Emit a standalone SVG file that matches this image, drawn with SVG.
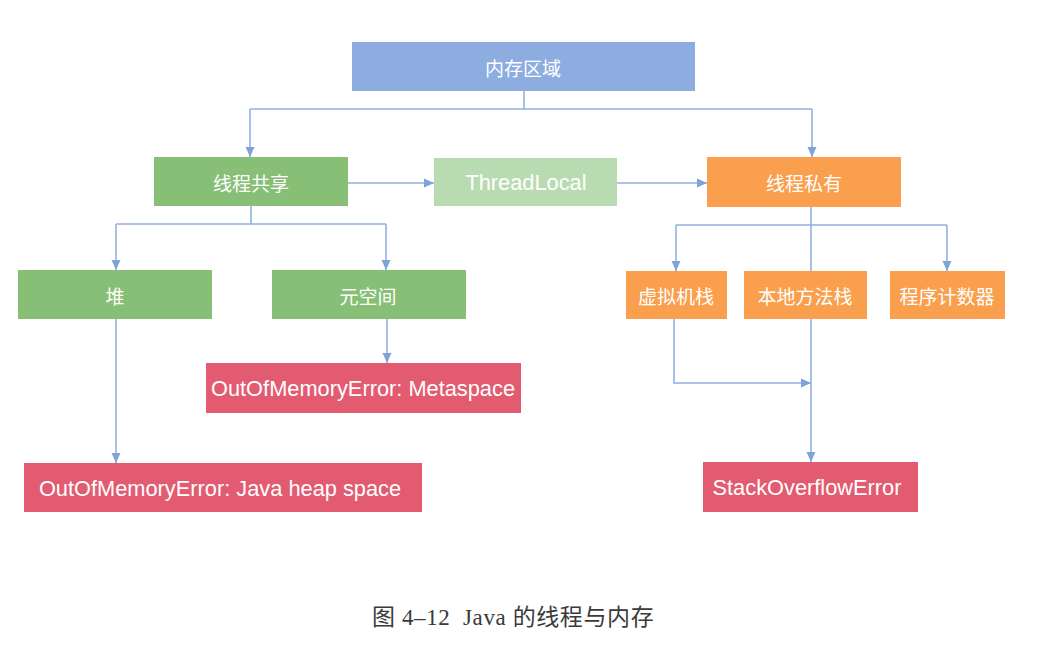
<svg xmlns="http://www.w3.org/2000/svg" width="1037" height="653" viewBox="0 0 1037 653">
<style>
.lat{font-family:"Liberation Sans",Arial,sans-serif;font-size:21.8px;fill:#ffffff;text-anchor:middle;dominant-baseline:central}
.cjk{font-family:"Noto Sans CJK SC","Liberation Sans",sans-serif;font-size:19px;fill:#ffffff;text-anchor:middle;dominant-baseline:central}
.blue{fill:#8dade0}
.green{fill:#88bf76}
.lgreen{fill:#b9dbb1}
.orange{fill:#f99f4e}
.red{fill:#e35b70}
.ln{fill:none;stroke:#93b1de;stroke-width:1.6}
.cap{font-family:"Liberation Serif","Noto Sans CJK SC",serif;font-size:23px;letter-spacing:0.6px;fill:#3a3a3a}
</style>
<defs>
<marker id="ah" markerUnits="userSpaceOnUse" markerWidth="10" markerHeight="10" viewBox="0 0 10 10" refX="10" refY="5" orient="auto">
<path d="M0,0.5 L10,5 L0,9.5 z" fill="#7fa3d8"/>
</marker>
</defs>
<rect width="1037" height="653" fill="#ffffff"/>
<g id="connectors">
<path class="ln" d="M524,91 V109"/>
<path class="ln" d="M250,109 H812"/>
<path class="ln" d="M250,109 V157" marker-end="url(#ah)"/>
<path class="ln" d="M812,109 V157" marker-end="url(#ah)"/>
<path class="ln" d="M348,183 H434" marker-end="url(#ah)"/>
<path class="ln" d="M617,183 H707" marker-end="url(#ah)"/>
<path class="ln" d="M251,206 V224"/>
<path class="ln" d="M116,224 H386"/>
<path class="ln" d="M116,224 V270" marker-end="url(#ah)"/>
<path class="ln" d="M386,224 V270" marker-end="url(#ah)"/>
<path class="ln" d="M811,207 V271"/>
<path class="ln" d="M676,225 H947"/>
<path class="ln" d="M676,225 V271" marker-end="url(#ah)"/>
<path class="ln" d="M947,225 V271" marker-end="url(#ah)"/>
<path class="ln" d="M116,319 V463" marker-end="url(#ah)"/>
<path class="ln" d="M387,319 V363" marker-end="url(#ah)"/>
<path class="ln" d="M674,319 V383 H811" marker-end="url(#ah)"/>
<path class="ln" d="M811,319 V462" marker-end="url(#ah)"/>
</g>
<g id="memory"><rect class="blue" x="352" y="42" width="343" height="49"/><text class="cjk" x="523" y="67">内存区域</text></g>
<g id="shared"><rect class="green" x="154" y="157" width="194" height="49"/><text class="cjk" x="251" y="182">线程共享</text></g>
<g id="threadlocal"><rect class="lgreen" x="434" y="158" width="183" height="48"/><text class="lat" x="526" y="182">ThreadLocal</text></g>
<g id="private"><rect class="orange" x="707" y="157" width="194" height="50"/><text class="cjk" x="804" y="182">线程私有</text></g>
<g id="heap"><rect class="green" x="18" y="270" width="194" height="49"/><text class="cjk" x="115" y="295">堆</text></g>
<g id="metaspace"><rect class="green" x="272" y="270" width="194" height="49"/><text class="cjk" x="368" y="295">元空间</text></g>
<g id="vmstack"><rect class="orange" x="626" y="271" width="101" height="48"/><text class="cjk" x="676" y="295">虚拟机栈</text></g>
<g id="nativestack"><rect class="orange" x="744" y="271" width="123" height="48"/><text class="cjk" x="805" y="295">本地方法栈</text></g>
<g id="pc"><rect class="orange" x="890" y="271" width="115" height="48"/><text class="cjk" x="947" y="295">程序计数器</text></g>
<g id="oom-meta"><rect class="red" x="206" y="363" width="315" height="50"/><text class="lat" x="363" y="388">OutOfMemoryError: Metaspace</text></g>
<g id="oom-heap"><rect class="red" x="24" y="463" width="398" height="49"/><text class="lat" x="220" y="488">OutOfMemoryError: Java heap space</text></g>
<g id="soe"><rect class="red" x="703" y="462" width="215" height="50"/><text class="lat" x="807" y="487">StackOverflowError</text></g>
<text class="cap" x="372" y="625" xml:space="preserve">图 4–12  Java 的线程与内存</text>
</svg>
